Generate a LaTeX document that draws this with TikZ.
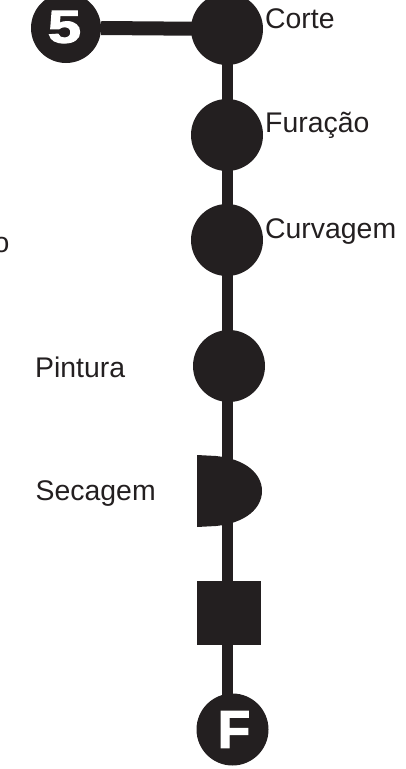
\documentclass[tikz,border=0pt]{standalone}
\usepackage{fontspec}
\setmainfont{Liberation Sans}
\newfontfamily\heavy{Liberation Sans}[BoldFeatures={FakeBold=2.5}]
\definecolor{ink}{HTML}{231F20}
\begin{document}
\begin{tikzpicture}[x=1pt,y=-1pt,
  dot/.style={circle,fill=ink,inner sep=0pt,minimum size=72pt},
  flow/.style={draw=ink,line width=11pt},
  link/.style={draw=ink,line width=14pt},
  lbl/.style={text=ink,font=\fontsize{28.4}{30}\selectfont,inner sep=0pt,anchor=base west},
  endlbl/.style={text=white,inner sep=0pt}
]
\useasboundingbox (0,0) rectangle (405,769);
% process symbols
\node[dot, minimum size=70pt] (five) at (66,28) {};
\node[dot] (corte) at (227,29) {};
\node[dot] (furacao) at (227,135) {};
\node[dot] (curvagem) at (227,240) {};
\node[dot] (pintura) at (229,366) {};
\fill[ink] (197,455) -- (216,456) .. controls (246,459) and (262,474) .. (262,491)
  .. controls (262,508) and (246,523) .. (216,526) -- (197,527) -- cycle;
\coordinate (secagem) at (227,491);
\node[fill=ink,inner sep=0pt,minimum size=64pt] (sq) at (229,613) {};
\node[dot] (fim) at (232.5,729.5) {};
\coordinate (fimtop) at (227,698);
% connectors
\draw[link] (five.east) -- (corte.center);
\draw[flow] (corte.center) -- (furacao.center) -- (curvagem.center) -- (secagem) -- (secagem |- sq.center) -- (fimtop);
% letters in the terminal circles
\node[endlbl, font=\heavy\bfseries\fontsize{46}{46}\selectfont, xscale=1.3] at (64.5,27) {5};
\node[endlbl, font=\heavy\bfseries\fontsize{53}{53}\selectfont] at (234,729.5) {F};
% labels
\node[lbl] (l1) at (265,28) {Corte};
\node[lbl] (l2) at (265,132) {Furação};
\node[lbl] (l3) at (265,238) {Curvagem};
\node[lbl] (l4) at (35,377) {Pintura};
\node[lbl] (l5) at (35.5,500) {Secagem};
\node[lbl, anchor=base east] (l6) at (9.5,252) {o};
\end{tikzpicture}
\end{document}
